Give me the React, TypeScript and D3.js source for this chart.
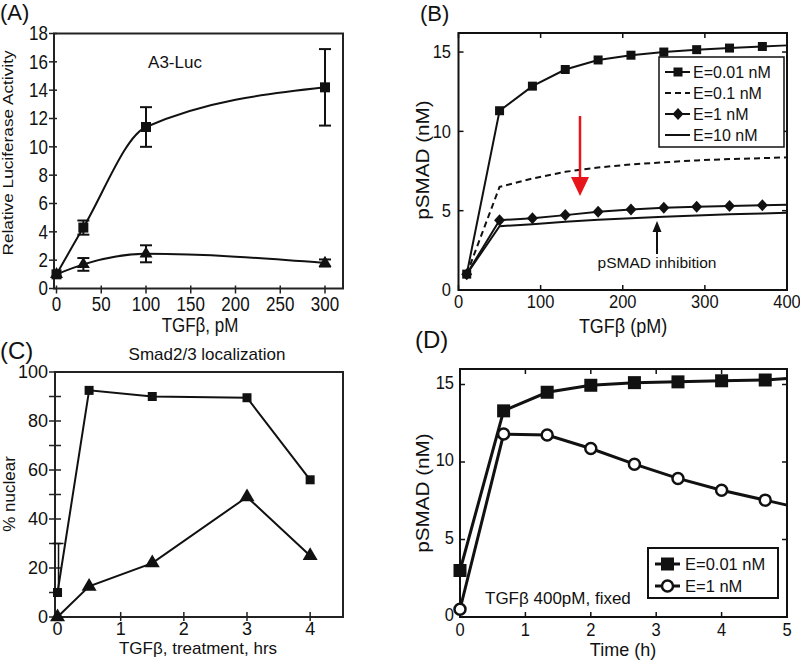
import React from 'react';
import * as d3 from 'd3';

const FONT = '"Liberation Sans", Arial, Helvetica, sans-serif';
const INK = '#111';

// ---------- Panel A data ----------
const aDose = [0, 30, 100, 300];
const aLucHigh = [1.0, 4.3, 11.4, 14.2];
const aLucHighErr = [0, 0.5, 1.4, 2.7];
const aLucLow = [1.0, 1.7, 2.45, 1.8];
const aLucLowErr = [0, 0.45, 0.6, 0.25];
const aXTicks = [0, 50, 100, 150, 200, 250, 300];
const aYTicks = [0, 2, 4, 6, 8, 10, 12, 14, 16, 18];

// ---------- Panel B data ----------
const bDose = [10, 50, 90, 130, 170, 210, 250, 290, 330, 370, 400];
const bE001 = [1.0, 11.3, 12.85, 13.9, 14.5, 14.8, 15.0, 15.15, 15.25, 15.35, 15.42];
const bE01 = [1.0, 6.5, 7.03, 7.45, 7.72, 7.92, 8.05, 8.17, 8.25, 8.31, 8.36];
const bE1 = [1.0, 4.4, 4.52, 4.72, 4.93, 5.07, 5.18, 5.24, 5.3, 5.35, 5.38];
const bE10 = [1.0, 4.02, 4.15, 4.3, 4.43, 4.53, 4.62, 4.7, 4.77, 4.83, 4.87];
const bLegend = ['E=0.01 nM', 'E=0.1 nM', 'E=1 nM', 'E=10 nM'];
const bXTicks = [0, 100, 200, 300, 400];
const bYTicks = [0, 5, 10, 15];

// ---------- Panel C data ----------
const cTime = [0, 0.5, 1.5, 3, 4];
const cSquare = [10, 92.5, 90, 89.5, 56];
const cTriangle = [0, 12.5, 22, 49, 25];
const cSquareErrTop = [30];
const cXTicks = [0, 1, 2, 3, 4];
const cYTicks = [0, 20, 40, 60, 80, 100];
const cYMinor = [10, 30, 50, 70, 90];

// ---------- Panel D data ----------
const dTime = [0, 0.667, 1.333, 2, 2.667, 3.333, 4, 4.667, 5];
const dE001 = [3.0, 13.3, 14.5, 14.95, 15.12, 15.17, 15.24, 15.29, 15.38];
const dE1 = [0.5, 11.8, 11.74, 10.87, 9.86, 8.94, 8.18, 7.54, 7.22];
const dLegend = ['E=0.01 nM', 'E=1 nM'];
const dXTicks = [0, 1, 2, 3, 4, 5];
const dYTicks = [0, 5, 10, 15];

const S = 1.15; // vertical stretch of the source figure's text

type TP = {
  x: number; y: number; size: number; anchor?: string; rot?: boolean;
  stretch?: number; children: React.ReactNode; central?: boolean; fill?: string;
};
function T({ x, y, size, anchor = 'start', rot = false, stretch = 1, children, central = false, fill = INK }: TP) {
  return (
    <text
      transform={`translate(${x},${y}) scale(1,${stretch})${rot ? ' rotate(-90)' : ''}`}
      fontSize={size}
      fontFamily={FONT}
      textAnchor={anchor as any}
      dominantBaseline={central ? 'central' : 'auto'}
      fill={fill}
    >
      {children}
    </text>
  );
}

const Square = ({ x, y, s }: { x: number; y: number; s: number }) => (
  <rect x={x - s / 2} y={y - s / 2} width={s} height={s} fill={INK} />
);
const Tri = ({ x, y, w }: { x: number; y: number; w: number }) => {
  const h = w * 0.85;
  return <path d={`M${x},${y - (2 * h) / 3}L${x + w / 2},${y + h / 3}L${x - w / 2},${y + h / 3}Z`} fill={INK} />;
};
const Diamond = ({ x, y, w, h }: { x: number; y: number; w: number; h: number }) => (
  <path d={`M${x},${y - h / 2}L${x + w / 2},${y}L${x},${y + h / 2}L${x - w / 2},${y}Z`} fill={INK} />
);

function PanelA() {
  const x = d3.scaleLinear([0, 300], [56.5, 325]);
  const y = d3.scaleLinear([0, 18], [288.5, 33.5]);
  const L = 54, R = 343, Tp = 33.5, B = 288.5;
  const curve = d3.line<number>().x((_, i) => x(aDose[i])).curve(d3.curveMonotoneX);
  const hi = curve.y((v) => y(v))(aLucHigh) || '';
  const lo = curve.y((v) => y(v))(aLucLow) || '';
  const errBar = (vals: number[], errs: number[], key: string) =>
    vals.map((v, i) =>
      errs[i] > 0 ? (
        <g key={key + i} stroke={INK} strokeWidth={2}>
          <line x1={x(aDose[i])} x2={x(aDose[i])} y1={y(v - errs[i])} y2={y(v + errs[i])} />
          <line x1={x(aDose[i]) - 6} x2={x(aDose[i]) + 6} y1={y(v - errs[i])} y2={y(v - errs[i])} />
          <line x1={x(aDose[i]) - 6} x2={x(aDose[i]) + 6} y1={y(v + errs[i])} y2={y(v + errs[i])} />
        </g>
      ) : null
    );
  return (
    <g>
      <rect x={L} y={Tp} width={R - L} height={B - Tp} fill="none" stroke="#222" strokeWidth={2} />
      {aYTicks.map((t) => (
        <g key={'ay' + t}>
          <line x1={L - 5} x2={L + 3} y1={y(t)} y2={y(t)} stroke="#222" strokeWidth={1.5} />
          <T x={L - 6} y={y(t)} size={17} anchor="end" central stretch={S}>{t}</T>
        </g>
      ))}
      {aXTicks.map((t) => (
        <g key={'ax' + t}>
          <line x1={x(t)} x2={x(t)} y1={B - 3} y2={B + 5} stroke="#222" strokeWidth={1.5} />
          <T x={x(t)} y={311} size={17} anchor="middle" stretch={S}>{t}</T>
        </g>
      ))}
      <path d={hi} fill="none" stroke={INK} strokeWidth={2} />
      <path d={lo} fill="none" stroke={INK} strokeWidth={2} />
      {errBar(aLucHigh, aLucHighErr, 'eh')}
      {errBar(aLucLow, aLucLowErr, 'el')}
      {aLucHigh.map((v, i) => <Square key={'as' + i} x={x(aDose[i])} y={y(v)} s={10} />)}
      {aLucLow.map((v, i) => <Tri key={'at' + i} x={x(aDose[i])} y={y(v)} w={13} />)}
      <T x={175} y={68} size={17} anchor="middle">A3-Luc</T>
      <T x={200} y={332} size={17} anchor="middle" stretch={S}>TGFβ, pM</T>
      <T x={13} y={153} size={15} anchor="middle" rot stretch={S}>Relative Luciferase Activity</T>
      <T x={0} y={20} size={22}>(A)</T>
    </g>
  );
}

function PanelB() {
  const x = d3.scaleLinear([0, 400], [458.5, 787]);
  const y = d3.scaleLinear([0, 16.2], [290, 33]);
  const L = 458.5, R = 787, Tp = 33, B = 290;
  const line = (vals: number[]) =>
    d3.line<number>().x((_, i) => x(bDose[i])).y((v) => y(v))(vals) || '';
  const mk = bDose.slice(0, -1);
  return (
    <g>
      <rect x={L} y={Tp} width={R - L} height={B - Tp} fill="white" stroke={INK} strokeWidth={2} />
      {bYTicks.map((t) => (
        <g key={'by' + t}>
          <line x1={L} x2={L + 5} y1={y(t)} y2={y(t)} stroke={INK} strokeWidth={1.5} />
          <line x1={R} x2={R - 5} y1={y(t)} y2={y(t)} stroke={INK} strokeWidth={1.5} />
          <T x={451} y={y(t)} size={16.5} anchor="end" central stretch={S}>{t}</T>
        </g>
      ))}
      {bXTicks.map((t) => (
        <g key={'bx' + t}>
          <line x1={x(t)} x2={x(t)} y1={B} y2={B - 5} stroke={INK} strokeWidth={1.5} />
          <line x1={x(t)} x2={x(t)} y1={Tp} y2={Tp + 5} stroke={INK} strokeWidth={1.5} />
          <T x={x(t)} y={308} size={16.5} anchor="middle" stretch={S}>{t}</T>
        </g>
      ))}
      <path d={line(bE10)} fill="none" stroke={INK} strokeWidth={2} />
      <path d={line(bE1)} fill="none" stroke={INK} strokeWidth={2} />
      <path d={line(bE01)} fill="none" stroke={INK} strokeWidth={2} strokeDasharray="6,4" />
      <path d={line(bE001)} fill="none" stroke={INK} strokeWidth={2} />
      {mk.map((d, i) => <Square key={'bs' + i} x={x(d)} y={y(bE001[i])} s={9} />)}
      {mk.map((d, i) => <Diamond key={'bd' + i} x={x(d)} y={y(bE1[i])} w={11} h={12} />)}
      {/* legend */}
      <rect x={659} y={57} width={125} height={90} fill="white" stroke={INK} strokeWidth={1.5} />
      {bLegend.map((lab, i) => {
        const ly = 72 + i * 21;
        return (
          <g key={'bl' + i}>
            <line x1={665} x2={690} y1={ly} y2={ly} stroke={INK} strokeWidth={2} strokeDasharray={i === 1 ? '6,4' : undefined} />
            {i === 0 && <Square x={678} y={ly} s={9} />}
            {i === 2 && <Diamond x={678} y={ly} w={11} h={12} />}
            <T x={693} y={ly} size={16} central>{lab}</T>
          </g>
        );
      })}
      {/* red arrow */}
      <line x1={580} x2={580} y1={116} y2={179} stroke="#e8141b" strokeWidth={2.5} />
      <path d="M571,177L589,177L580,196Z" fill="#e8141b" />
      {/* black arrow */}
      <line x1={657} x2={657} y1={254} y2={230} stroke={INK} strokeWidth={2} />
      <path d="M652.5,232L661.5,232L657,221Z" fill={INK} />
      <T x={657} y={268} size={15.5} anchor="middle">pSMAD inhibition</T>
      <T x={623} y={333} size={18} anchor="middle" stretch={S}>TGFβ (pM)</T>
      <T x={429} y={160} size={18} anchor="middle" rot stretch={S}>pSMAD (nM)</T>
      <T x={420} y={21} size={22}>(B)</T>
    </g>
  );
}

function PanelC() {
  const x = d3.scaleLinear([-0.04, 4.52], [55, 343]);
  const y = d3.scaleLinear([0, 100], [617, 372]);
  const L = 55, R = 343, Tp = 372, B = 617;
  const line = (vals: number[]) =>
    d3.line<number>().x((_, i) => x(cTime[i])).y((v) => y(v))(vals) || '';
  return (
    <g>
      <rect x={L} y={Tp} width={R - L} height={B - Tp} fill="none" stroke="#222" strokeWidth={2} />
      {[...cYTicks, ...cYMinor].map((t) => (
        <line key={'cyt' + t} x1={L - 6} x2={L + 6} y1={y(t)} y2={y(t)} stroke="#222" strokeWidth={1.5} />
      ))}
      {cYTicks.map((t) => (
        <T key={'cy' + t} x={48} y={y(t)} size={18} anchor="end" central>{t}</T>
      ))}
      {cXTicks.map((t) => (
        <g key={'cx' + t}>
          <line x1={x(t)} x2={x(t)} y1={B - 5} y2={B + 4} stroke="#222" strokeWidth={1.5} />
          <T x={x(t)} y={635} size={18} anchor="middle">{t}</T>
        </g>
      ))}
      {/* error bar on first square */}
      <line x1={x(cTime[0]) + 1} x2={x(cTime[0]) + 1} y1={y(cSquare[0])} y2={y(cSquareErrTop[0])} stroke={INK} strokeWidth={1.5} />
      <line x1={x(cTime[0]) - 5} x2={x(cTime[0]) + 6} y1={y(cSquareErrTop[0])} y2={y(cSquareErrTop[0])} stroke={INK} strokeWidth={1.5} />
      <path d={line(cSquare)} fill="none" stroke={INK} strokeWidth={2} />
      <path d={line(cTriangle)} fill="none" stroke={INK} strokeWidth={2} />
      {cSquare.map((v, i) => <Square key={'cs' + i} x={x(cTime[i])} y={y(v)} s={9} />)}
      {cTriangle.map((v, i) => <Tri key={'ct' + i} x={x(cTime[i])} y={y(v)} w={15} />)}
      <T x={207} y={360} size={17} anchor="middle">Smad2/3 localization</T>
      <T x={198} y={654} size={17} anchor="middle">TGFβ, treatment, hrs</T>
      <T x={15} y={494} size={17} anchor="middle" rot>% nuclear</T>
      <T x={0} y={359} size={24}>(C)</T>
    </g>
  );
}

function PanelD() {
  const x = d3.scaleLinear([0, 5], [460, 787]);
  const y = d3.scaleLinear([0, 16], [617, 369]);
  const L = 460, R = 787, Tp = 369, B = 617;
  const line = (vals: number[]) =>
    d3.line<number>().x((_, i) => x(dTime[i])).y((v) => y(v))(vals) || '';
  const mk = dTime.slice(0, -1);
  return (
    <g>
      <rect x={L} y={Tp} width={R - L} height={B - Tp} fill="white" stroke={INK} strokeWidth={2} />
      {dYTicks.map((t) => (
        <g key={'dy' + t}>
          <line x1={L} x2={L + 5} y1={y(t)} y2={y(t)} stroke={INK} strokeWidth={1.5} />
          <line x1={R} x2={R - 5} y1={y(t)} y2={y(t)} stroke={INK} strokeWidth={1.5} />
          <T x={454} y={y(t) - 2} size={16.5} anchor="end" central stretch={S}>{t}</T>
        </g>
      ))}
      {dXTicks.map((t) => (
        <g key={'dx' + t}>
          <line x1={x(t)} x2={x(t)} y1={B} y2={B - 5} stroke={INK} strokeWidth={1.5} />
          <line x1={x(t)} x2={x(t)} y1={Tp} y2={Tp + 5} stroke={INK} strokeWidth={1.5} />
          <T x={x(t)} y={636} size={16.5} anchor="middle" stretch={S}>{t}</T>
        </g>
      ))}
      <path d={line(dE1)} fill="none" stroke={INK} strokeWidth={3} />
      <path d={line(dE001)} fill="none" stroke={INK} strokeWidth={3} />
      {mk.map((t, i) => <Square key={'ds' + i} x={x(t)} y={y(dE001[i])} s={13} />)}
      {mk.map((t, i) => (
        <circle key={'dc' + i} cx={x(t)} cy={y(dE1[i])} r={5.5} fill="white" stroke={INK} strokeWidth={2.5} />
      ))}
      <rect x={648} y={548} width={130} height={50} fill="white" stroke={INK} strokeWidth={2} />
      {dLegend.map((lab, i) => {
        const ly = 564 + i * 22;
        return (
          <g key={'dl' + i}>
            <line x1={655} x2={680} y1={ly} y2={ly} stroke={INK} strokeWidth={3} />
            {i === 0 ? <Square x={667.5} y={ly} s={13} /> : <circle cx={667.5} cy={ly} r={5.5} fill="white" stroke={INK} strokeWidth={2.5} />}
            <T x={685} y={ly} size={16.5} central>{lab}</T>
          </g>
        );
      })}
      <T x={485} y={604} size={17}>TGFβ 400pM, fixed</T>
      <T x={623} y={656} size={18} anchor="middle" stretch={1.05}>Time (h)</T>
      <T x={429} y={493} size={18} anchor="middle" rot stretch={S}>pSMAD (nM)</T>
      <T x={415} y={348} size={24}>(D)</T>
    </g>
  );
}

export default function App() {
  return (
    <div style={{ position: 'absolute', left: 0, top: 0 }}>
      <svg width={800} height={662} viewBox="0 0 800 662" style={{ display: 'block', background: 'white' }}>
        <PanelA />
        <PanelB />
        <PanelC />
        <PanelD />
      </svg>
    </div>
  );
}
